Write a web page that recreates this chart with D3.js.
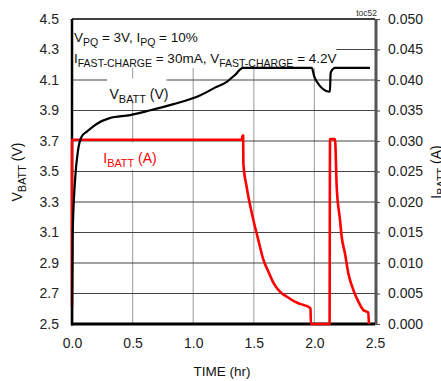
<!DOCTYPE html>
<html>
<head>
<meta charset="utf-8">
<script src="https://cdn.jsdelivr.net/npm/d3@7"></script>
<style>
  body { margin: 0; background: #fff; }
  svg text { font-family: "Liberation Sans", Arial, sans-serif; }
</style>
</head>
<body>
<div id="chart"></div>
<script>
// tick values
var timeTicks = [0, 0.5, 1.0, 1.5, 2.0, 2.5];
var voltTicks = [2.5, 2.7, 2.9, 3.1, 3.3, 3.5, 3.7, 3.9, 4.1, 4.3, 4.5];
var ampTicks = [0, 0.005, 0.010, 0.015, 0.020, 0.025, 0.030, 0.035, 0.040, 0.045, 0.050];

// VBATT (V) vs time (hr)
var vbattTime  = [0, 0.001, 0.006, 0.025, 0.05, 0.08, 0.12, 0.15, 0.2, 0.31, 0.48, 0.64, 0.83, 1.06, 1.18, 1.28, 1.345, 1.41, 1.978, 2.0, 2.019, 2.123, 2.128, 2.134, 2.15, 2.17, 2.459];
var vbattVolts = [2.5, 2.62, 3.1, 3.44, 3.64, 3.73, 3.76, 3.78, 3.81, 3.85, 3.87, 3.9, 3.94, 4.0, 4.05, 4.09, 4.133, 4.18, 4.18, 4.12, 4.09, 4.023, 4.023, 4.146, 4.17, 4.18, 4.18];

// IBATT (A) vs time (hr)
var ibattTime = [0, 0.001, 1.40, 1.408, 1.412, 1.414, 1.441, 1.496, 1.537, 1.578, 1.62, 1.661, 1.716, 1.771, 1.826, 1.881, 1.968, 1.971, 2.125, 2.129, 2.17, 2.184, 2.211, 2.225, 2.252, 2.28, 2.321, 2.362, 2.403, 2.444, 2.45];
var ibattAmps = [0.0028, 0.0302, 0.0302, 0.0309, 0.0309, 0.0263, 0.0225, 0.0171, 0.0138, 0.0106, 0.0086, 0.0068, 0.0053, 0.0045, 0.0038, 0.0033, 0.0026, 0, 0, 0.0303, 0.0303, 0.0225, 0.0171, 0.0143, 0.0116, 0.0083, 0.0056, 0.0037, 0.0023, 0.0019, 0];

var W = 441, H = 381;
var margin = { top: 19, right: 66, bottom: 57, left: 72 },
	width = W - margin.left - margin.right,
	height = H - margin.top - margin.bottom;

var x = d3.scaleLinear().domain([0, 2.5]).range([0, width]);
var yV = d3.scaleLinear().domain([2.5, 4.5]).range([height, 0]);
var yA = d3.scaleLinear().domain([0, 0.05]).range([height, 0]);

var svg = d3.select('#chart').append('svg')
	.attr('width', W)
	.attr('height', H);

var g = svg.append('g')
	.attr('transform', 'translate(' + margin.left + ',' + margin.top + ')');

// grid
g.selectAll('.vgrid')
	.data(timeTicks.slice(1, -1))
	.enter().append('line')
	.attr('x1', function (d) { return x(d); })
	.attr('x2', function (d) { return x(d); })
	.attr('y1', 0).attr('y2', height)
	.attr('stroke', '#aaa').attr('stroke-width', 1.2);

g.selectAll('.hgrid')
	.data(voltTicks.slice(1, -1))
	.enter().append('line')
	.attr('x1', 0).attr('x2', width)
	.attr('y1', function (d) { return yV(d); })
	.attr('y2', function (d) { return yV(d); })
	.attr('stroke', '#444').attr('stroke-width', 1.2);

// white backgrounds behind the notes
g.append('rect').attr('x', 0).attr('y', 0).attr('width', x(2.18)).attr('height', yV(4.18))
	.attr('fill', '#fff');
g.append('rect').attr('x', x(0.29)).attr('y', yV(4.11)).attr('width', x(0.49)).attr('height', yV(3.96) - yV(4.11))
	.attr('fill', '#fff');
g.append('rect').attr('x', x(0.25)).attr('y', yV(3.69)).attr('width', x(0.52)).attr('height', yV(3.51) - yV(3.69))
	.attr('fill', '#fff');

// axes
var xAxis = d3.axisBottom(x).tickValues(timeTicks).tickSize(0).tickPadding(14).tickFormat(d3.format('.1f'));
var yAxis = d3.axisLeft(yV).tickValues(voltTicks).tickSize(0).tickPadding(13).tickFormat(d3.format('.1f'));
var yAxisRight = d3.axisRight(yA).tickValues(ampTicks).tickSize(5).tickPadding(8).tickFormat(d3.format('.3f'));

function styleAxis(sel) {
	sel.select('.domain').remove();
	sel.selectAll('text')
		.attr('font-size', 14)
		.attr('fill', '#222')
		.attr('font-family', '"Liberation Sans", Arial, sans-serif');
	sel.selectAll('line').attr('stroke', '#555').attr('stroke-width', 1.2);
}

g.append('g').attr('transform', 'translate(0,' + height + ')').call(xAxis).call(styleAxis);
g.append('g').call(yAxis).call(styleAxis);
g.append('g').attr('transform', 'translate(' + width + ',0)').call(yAxisRight).call(styleAxis);

// frame
g.append('line').attr('x1', width + 1).attr('x2', width + 1).attr('y1', 0).attr('y2', height + 1)
	.attr('stroke', '#555').attr('stroke-width', 3);
g.append('line').attr('x1', 0).attr('x2', width).attr('y1', 0).attr('y2', 0)
	.attr('stroke', '#000').attr('stroke-width', 1.5);
g.append('line').attr('x1', 0).attr('x2', 0).attr('y1', 0).attr('y2', height + 1.5)
	.attr('stroke', '#000').attr('stroke-width', 2.5);
g.append('line').attr('x1', -1).attr('x2', width).attr('y1', height).attr('y2', height)
	.attr('stroke', '#000').attr('stroke-width', 3);

// data lines (monotone keeps the knees without overshoot)
var vLine = d3.line()
	.curve(d3.curveMonotoneX)
	.x(function (d) { return x(d[0]); })
	.y(function (d) { return yV(d[1]); });
var aLine = d3.line()
	.curve(d3.curveMonotoneX)
	.x(function (d) { return x(d[0]); })
	.y(function (d) { return yA(d[1]); });

g.append('path')
	.datum(d3.zip(ibattTime, ibattAmps))
	.attr('d', aLine)
	.attr('fill', 'none')
	.attr('stroke', '#ff0000')
	.attr('stroke-width', 2.6)
	.attr('stroke-linejoin', 'round');

g.append('path')
	.datum(d3.zip(vbattTime, vbattVolts))
	.attr('d', vLine)
	.attr('fill', 'none')
	.attr('stroke', '#000')
	.attr('stroke-width', 2.2)
	.attr('stroke-linejoin', 'round');

// text with subscripts
function richText(parent, px, py, parts, opts) {
	opts = opts || {};
	var size = opts.size || 13;
	var t = parent.append('text')
		.attr('x', px).attr('y', py)
		.attr('font-size', size)
		.attr('fill', opts.fill || '#111')
		.attr('text-anchor', opts.anchor || 'start');
	if (opts.transform) t.attr('transform', opts.transform).attr('x', 0).attr('y', 0);
	var shifted = false;
	parts.forEach(function (p) {
		var sp = t.append('tspan').text(p[0]);
		if (p[1] && !shifted) { sp.attr('dy', 4).attr('font-size', size * 0.78); shifted = true; }
		else if (p[1]) { sp.attr('font-size', size * 0.78); }
		else if (shifted) { sp.attr('dy', -4); shifted = false; }
	});
	return t;
}

richText(svg, 74, 42, [['V'], ['PQ', 1], [' = 3V, I'], ['PQ', 1], [' = 10%']], { size: 13.5 });
richText(svg, 74, 63, [['I'], ['FAST-CHARGE', 1], [' = 30mA, V'], ['FAST-CHARGE', 1], [' = 4.2V']], { size: 13.5 });
richText(svg, 139, 99, [['V'], ['BATT', 1], [' (V)']], { size: 14, anchor: 'middle' });
richText(svg, 130, 163, [['I'], ['BATT', 1], [' (A)']], { size: 14, anchor: 'middle', fill: '#ff0000' });

richText(svg, 0, 0, [['V'], ['BATT', 1], [' (V)']], { size: 14, anchor: 'middle', transform: 'translate(22,172) rotate(-90)' });
richText(svg, 0, 0, [['I'], ['BATT', 1], [' (A)']], { size: 14, anchor: 'middle', transform: 'translate(441,172) rotate(-90)' });

svg.append('text')
	.attr('x', 222).attr('y', 376)
	.attr('text-anchor', 'middle')
	.attr('font-size', 13.5)
	.attr('fill', '#111')
	.text('TIME (hr)');

svg.append('text')
	.attr('x', 377).attr('y', 16)
	.attr('text-anchor', 'end')
	.attr('font-size', 8.5)
	.attr('fill', '#333')
	.text('toc52');
</script>
</body>
</html>
